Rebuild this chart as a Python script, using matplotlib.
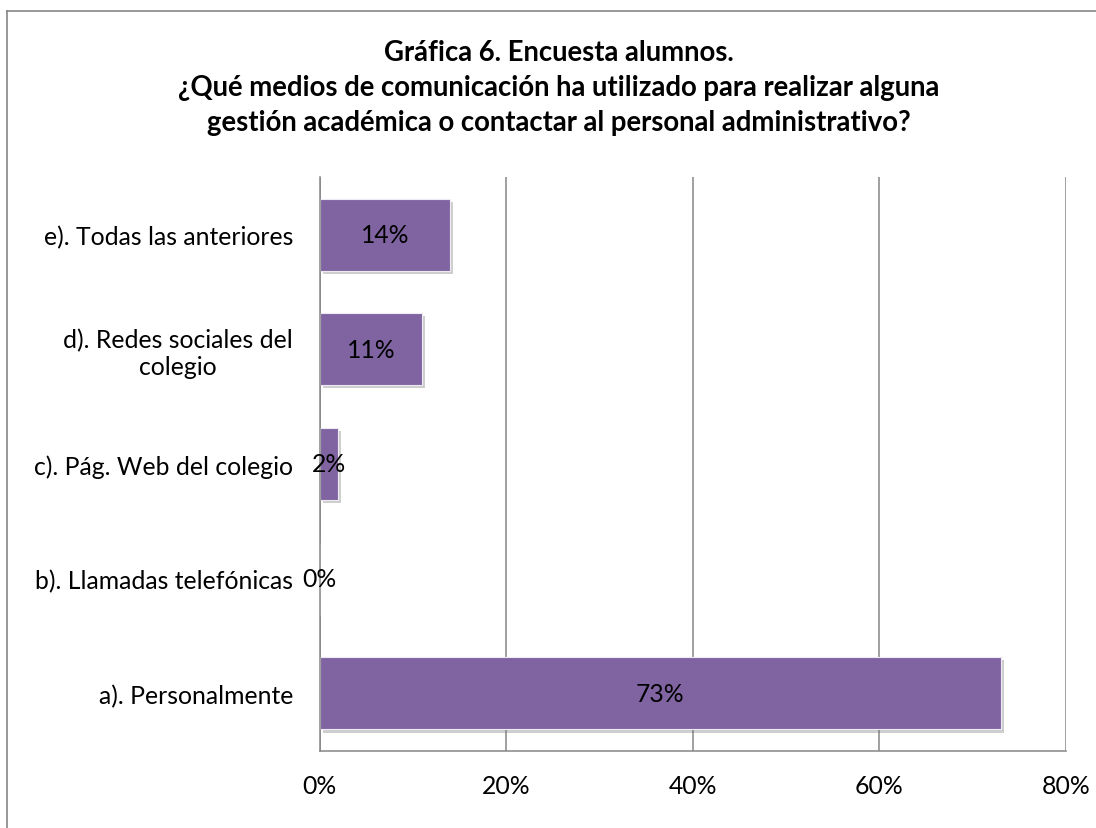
import matplotlib
matplotlib.use("Agg")
import matplotlib.pyplot as plt
import matplotlib.patheffects as pe
from matplotlib.lines import Line2D

# ---- data ----
categories = ["a). Personalmente",
              "b). Llamadas telefónicas",
              "c). Pág. Web del colegio",
              "d). Redes sociales del\ncolegio",
              "e). Todas las anteriores"]
values = [73, 0, 2, 11, 14]
xticks = [0, 20, 40, 60, 80]
xtick_labels = ["0%", "20%", "40%", "60%", "80%"]
title_lines = ["Gráfica 6. Encuesta alumnos.",
               "¿Qué medios de comunicación ha utilizado para realizar alguna",
               "gestión académica o contactar al personal administrativo?"]

W, H, DPI = 1096, 829, 100
FONT = "Lato"
BAR = "#8064A2"
GRID = "#868686"

fig = plt.figure(figsize=(W / DPI, H / DPI), dpi=DPI)
fig.patch.set_facecolor("white")
renderer = fig.canvas.get_renderer()


def fit_size(text, target_px, weight="normal"):
    t = fig.text(0, 0, text, fontsize=10, family=FONT, weight=weight)
    w = t.get_window_extent(renderer).width
    t.remove()
    return 10 * target_px / w


lab_fs = fit_size("e). Todas las anteriores", 250)
title_fs = fit_size(title_lines[1], 765, weight="bold")

# axes placement (pixels)
x0, x1 = 319.5, 1066.0
ytop, ybot = 178.3, 751.7
ax = fig.add_axes([x0 / W, (H - ybot) / H, (x1 - x0) / W, (ybot - ytop) / H])
ax.set_facecolor("white")

ypos = list(range(len(categories)))
bars = ax.barh(ypos, values, height=0.63, color=BAR, edgecolor="#EEEAF3",
               linewidth=0.8, zorder=3)
for b in bars:
    b.set_path_effects([pe.SimplePatchShadow(offset=(2.2, -2.2),
                                             shadow_rgbFace=(0.45, 0.45, 0.45),
                                             alpha=0.35),
                        pe.Normal()])

for y, v in zip(ypos, values):
    ax.text(v / 2, y, f"{v}%", ha="center", va="center", fontsize=lab_fs,
            family=FONT, color="black", zorder=5)

ax.set_xlim(0, 80)
ax.set_ylim(-0.5, len(categories) - 0.5)
ax.set_xticks(xticks)
ax.set_xticklabels(xtick_labels, family=FONT, fontsize=lab_fs)
ax.set_yticks(ypos)
ax.set_yticklabels(categories, family=FONT, fontsize=lab_fs,
                   multialignment="center")
ax.tick_params(axis="y", length=0, pad=19)
ax.tick_params(axis="x", length=0, pad=17)

ax.grid(axis="x", color=GRID, linewidth=1.1, zorder=0)
ax.set_axisbelow(True)
for s in ["top", "right"]:
    ax.spines[s].set_visible(False)
for s in ["left", "bottom"]:
    ax.spines[s].set_color(GRID)
    ax.spines[s].set_linewidth(1.1)
    ax.spines[s].set_zorder(4)

# title
baselines = [61, 96, 131]
for line, yb in zip(title_lines, baselines):
    fig.text(558.5 / W, (H - yb) / H, line, ha="center", va="baseline",
             fontsize=title_fs, weight="bold", family=FONT, color="black")

# chart border (only left and top visible in the crop)
bx, by = 6.7, 12.3
fig.add_artist(Line2D([bx / W, bx / W], [0, (H - by) / H], color=GRID,
                      linewidth=1.2, transform=fig.transFigure))
fig.add_artist(Line2D([bx / W, 1], [(H - by) / H, (H - by) / H], color=GRID,
                      linewidth=1.2, transform=fig.transFigure))

fig.savefig("out.png", dpi=DPI, facecolor="white")
